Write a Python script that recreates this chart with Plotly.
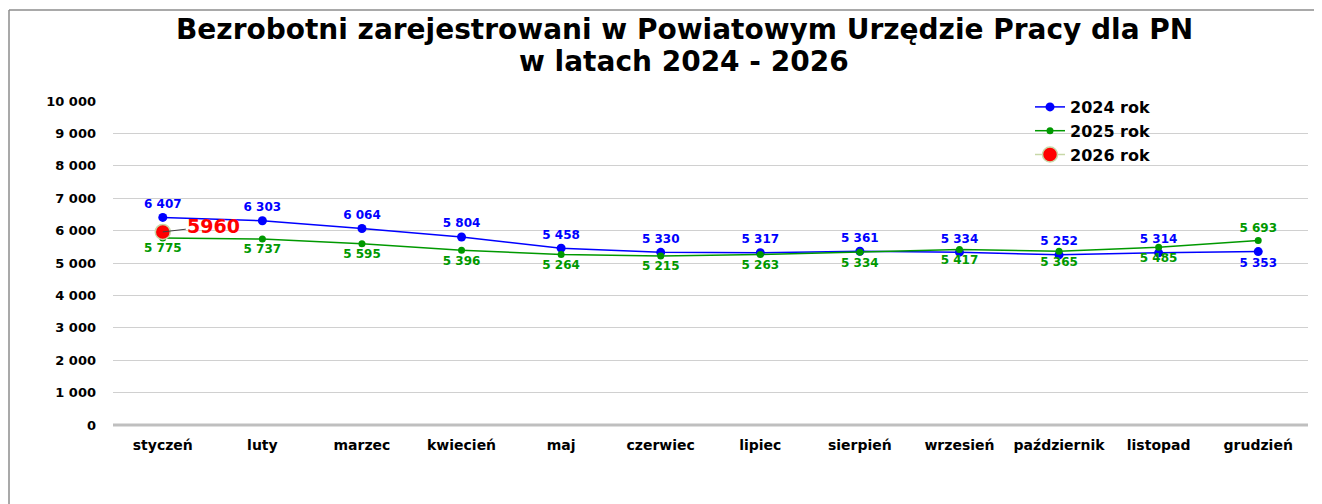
import plotly.graph_objects as go

months = ["styczeń", "luty", "marzec", "kwiecień", "maj", "czerwiec", "lipiec",
          "sierpień", "wrzesień", "październik", "listopad", "grudzień"]
y2024 = [6407, 6303, 6064, 5804, 5458, 5330, 5317, 5361, 5334, 5252, 5314, 5353]
y2025 = [5775, 5737, 5595, 5396, 5264, 5215, 5263, 5334, 5417, 5365, 5485, 5693]
months2026 = ["styczeń"]
y2026 = [5960]
yticks = list(range(0, 10001, 1000))
title_lines = ["Bezrobotni zarejestrowani w Powiatowym Urzędzie Pracy dla PN",
               "w latach 2024 - 2026"]

# page is rendered with an 8px body margin: work in page pixels, convert
OFF = 8
PW, PH = 1322, 504
W, H = PW - OFF, PH - OFF
L, R, T, B = 113, 1308, 101, 425  # plot area in page pixels

pos2024 = ["top center"] * 11 + ["bottom center"]
pos2025 = ["bottom center"] * 11 + ["top center"]

fig = go.Figure()
fig.add_trace(go.Scatter(
    x=months, y=y2024, name="2024 rok", mode="lines+markers+text",
    line=dict(color="#0000FF", width=1.5),
    marker=dict(color="#0000FF", size=9),
    texttemplate="%{y:,}", textposition=pos2024,
    textfont=dict(family="DejaVu Sans", size=12, color="#0000FF", weight="bold"),
))
fig.add_trace(go.Scatter(
    x=months, y=y2025, name="2025 rok", mode="lines+markers+text",
    line=dict(color="#009900", width=1.5),
    marker=dict(color="#009900", size=7),
    texttemplate="%{y:,}", textposition=pos2025,
    textfont=dict(family="DejaVu Sans", size=12, color="#009900", weight="bold"),
))
fig.add_trace(go.Scatter(
    x=months2026, y=y2026, name="2026 rok", mode="lines+markers",
    line=dict(color="#C8D8A8", width=1.5),
    marker=dict(color="#FF0000", size=15, line=dict(color="#C8D8A8", width=1.5)),
))

for m, v in zip(months2026, y2026):
    fig.add_annotation(
        x=m, y=v, xref="x", yref="y", text=f"<b>{v}</b>",
        showarrow=True, arrowhead=0, arrowwidth=1, arrowcolor="#404040",
        ax=51, ay=-6, xanchor="center", standoff=0, startstandoff=0,
        font=dict(family="DejaVu Sans", size=19, color="#FF0000"),
    )

def px(x):
    return (x - L) / (R - L)

def py(y):
    return (B - y) / (B - T)

for line, yc in zip(title_lines, [30, 62]):
    fig.add_annotation(
        x=px(684), y=py(yc), xref="paper", yref="paper",
        text=f"<b>{line}</b>", showarrow=False, xanchor="center", yanchor="middle",
        font=dict(family="DejaVu Sans", size=28, color="black"),
    )

fig.add_shape(type="line", xref="paper", yref="paper",
              x0=px(OFF + 1), x1=px(PW + 5), y0=py(10), y1=py(10),
              line=dict(color="#8C8C8C", width=1.5))
fig.add_shape(type="line", xref="paper", yref="paper",
              x0=px(OFF + 1), x1=px(OFF + 1), y0=py(10), y1=py(PH + 5),
              line=dict(color="#8C8C8C", width=1.5))
fig.add_shape(type="line", xref="paper", yref="paper",
              x0=0, x1=1, y0=0, y1=0,
              line=dict(color="#BFBFBF", width=3))

fig.update_layout(
    width=W, height=H,
    margin=dict(l=L - OFF, r=PW - R, t=T - OFF, b=PH - B),
    paper_bgcolor="white", plot_bgcolor="white",
    separators=", ",
    showlegend=True,
    legend=dict(
        x=px(1030), y=py(90), xanchor="left", yanchor="top",
        bgcolor="rgba(0,0,0,0)", tracegroupgap=0, itemwidth=30,
        font=dict(family="DejaVu Sans", size=16, color="black", weight="bold"),
    ),
    xaxis=dict(
        type="category", categoryorder="array", categoryarray=months,
        range=[-0.5, 11.5], showgrid=False, zeroline=False, showline=False,
        ticks="", tickfont=dict(family="DejaVu Sans", size=14, color="black", weight="bold"),
        ticklabelstandoff=10,
    ),
    yaxis=dict(
        range=[0, 10000], tickvals=yticks, tickformat=",",
        showgrid=True, gridcolor="#D0D0D0", gridwidth=1,
        zeroline=False, showline=False, ticks="", ticklen=0,
        tickfont=dict(family="DejaVu Sans", size=13, color="black", weight="bold"),
        ticklabelstandoff=16,
    ),
)

fig.write_html("out.html")
